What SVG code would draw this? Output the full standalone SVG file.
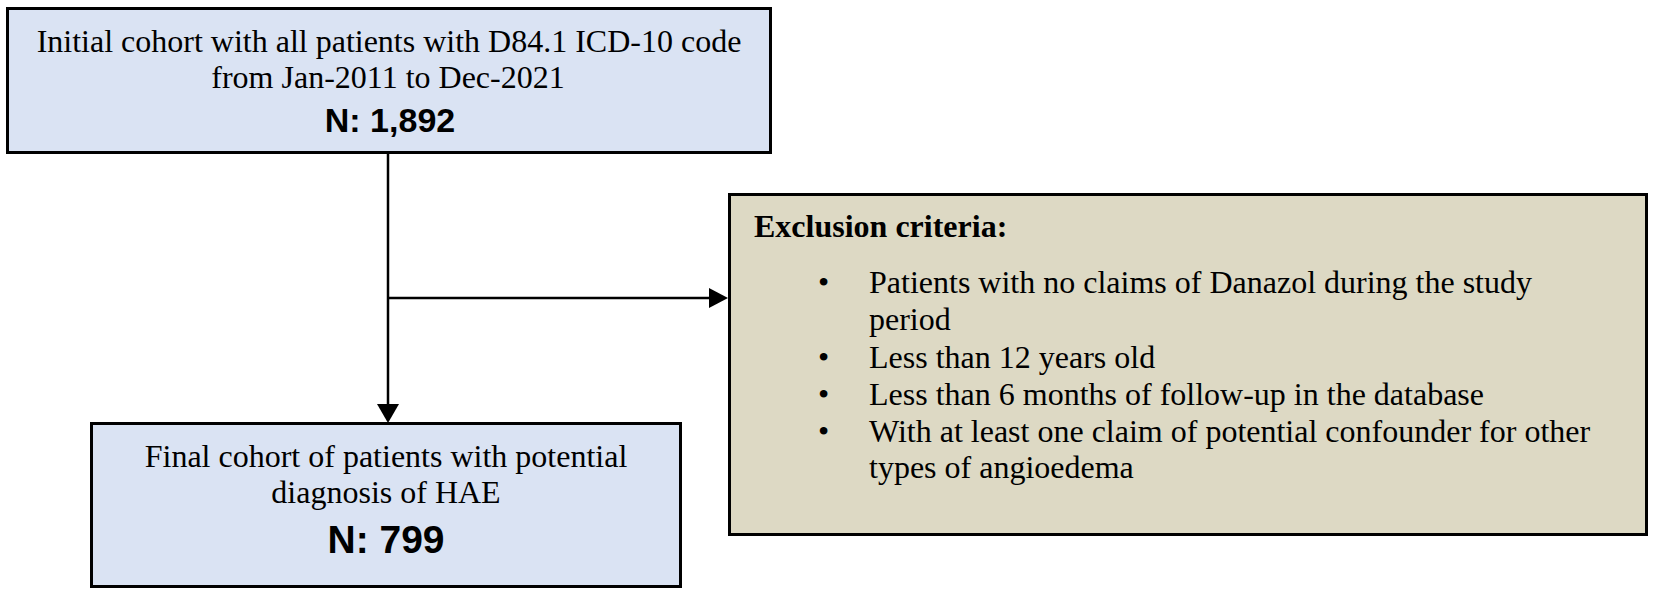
<svg xmlns="http://www.w3.org/2000/svg" width="1654" height="596" viewBox="0 0 1654 596">
<style>
.blue{fill:#DAE3F3;stroke:#000;stroke-width:3}
.tan{fill:#DDD9C4;stroke:#000;stroke-width:3}
.t{font-family:"Liberation Serif","Times New Roman",serif;font-size:32px;fill:#000}
.c{text-anchor:middle}
.b{font-weight:bold}
.n{font-family:"Liberation Sans",Arial,sans-serif;font-weight:bold;fill:#000;text-anchor:middle}
.ln{stroke:#000;stroke-width:2.5;fill:none}
</style>
<rect width="1654" height="596" fill="#fff"/>
<g id="connectors">
<line class="ln" x1="388" y1="153" x2="388" y2="405"/>
<polygon points="377,404 399,404 388,423" fill="#000"/>
<line class="ln" x1="388" y1="298" x2="710" y2="298"/>
<polygon points="709,288 709,308 728,298" fill="#000"/>
</g>
<g id="initial">
<rect class="blue" x="7.5" y="8.5" width="763" height="144"/>
<text class="t c" x="389" y="52">Initial cohort with all patients with D84.1 ICD-10 code</text>
<text class="t c" x="388" y="88">from Jan-2011 to Dec-2021</text>
<text class="n" x="390" y="132" font-size="34">N: 1,892</text>
</g>
<g id="final">
<rect class="blue" x="91.5" y="423.5" width="589" height="163"/>
<text class="t c" x="386" y="467">Final cohort of patients with potential</text>
<text class="t c" x="386" y="503">diagnosis of HAE</text>
<text class="n" x="386" y="553" font-size="39">N: 799</text>
</g>
<g id="exclusion">
<rect class="tan" x="729.5" y="194.5" width="917" height="340"/>
<text class="t b" x="754" y="237">Exclusion criteria:</text>
<text class="t" x="818" y="293">•</text>
<text class="t" x="869" y="293">Patients with no claims of Danazol during the study</text>
<text class="t" x="869" y="330">period</text>
<text class="t" x="818" y="368">•</text>
<text class="t" x="869" y="368">Less than 12 years old</text>
<text class="t" x="818" y="405">•</text>
<text class="t" x="869" y="405">Less than 6 months of follow-up in the database</text>
<text class="t" x="818" y="442">•</text>
<text class="t" x="869" y="442">With at least one claim of potential confounder for other</text>
<text class="t" x="869" y="478">types of angioedema</text>
</g>
</svg>
